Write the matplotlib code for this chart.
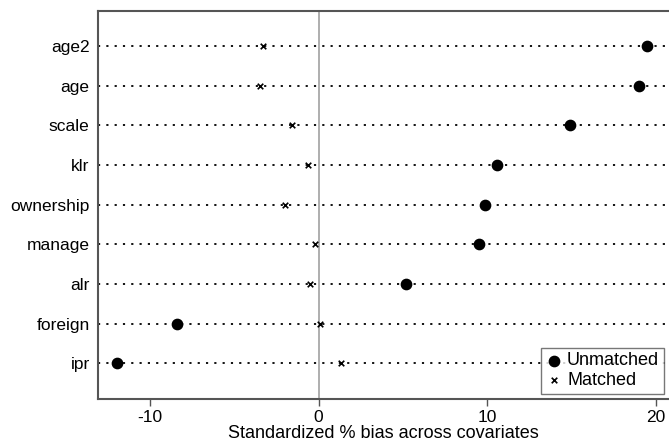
import matplotlib
matplotlib.use('Agg')
import matplotlib.pyplot as plt

plt.rcParams['font.family'] = ['Liberation Sans', 'DejaVu Sans']
plt.rcParams['axes.unicode_minus'] = False

covariates = ['age2', 'age', 'scale', 'klr', 'ownership', 'manage', 'alr', 'foreign', 'ipr']
unmatched = [19.5, 19.0, 14.9, 10.6, 9.9, 9.5, 5.2, -8.4, -12.0]
matched = [-3.3, -3.5, -1.6, -0.65, -2.0, -0.2, -0.5, 0.1, 1.3]
xticks = [-10, 0, 10, 20]

xmin, xmax = -13.1, 20.8

fig = plt.figure(figsize=(6.69, 4.43), dpi=100)
ax = fig.add_axes([0.1465, 0.099, 0.8535, 0.876])

ypos = list(range(len(covariates), 0, -1))
ax.hlines(ypos, xmin, xmax, colors='black', linestyles=[(0, (1.2, 3.4))],
          linewidth=1.3, zorder=1)
ax.axvline(0, color='#a8a8a8', linewidth=1.3, zorder=2)

ax.scatter(unmatched, ypos, s=55, color='black', marker='o', zorder=3, label='Unmatched')
ax.scatter(matched, ypos, s=16, color='black', marker='x', linewidths=1.2, zorder=3, label='Matched')

ax.set_xlim(xmin, xmax)
ax.set_ylim(0.1, len(covariates) + 0.88)
ax.set_yticks(ypos)
ax.set_yticklabels(covariates, fontsize=12.5)
ax.set_xticks(xticks)
ax.tick_params(axis='y', length=0, pad=6)
ax.tick_params(axis='x', length=5, width=1, labelsize=12.5, pad=3, color='#555555')
ax.set_xlabel('Standardized % bias across covariates', fontsize=13, labelpad=0)

for side in ['left', 'bottom', 'top']:
    ax.spines[side].set_color('#555555')
    ax.spines[side].set_linewidth(1.5)
ax.spines['right'].set_visible(False)

leg = ax.legend(loc='lower right', bbox_to_anchor=(0.997, 0.005), fontsize=13,
                frameon=True, fancybox=False, edgecolor='#555555',
                handletextpad=0.2, borderpad=0.25, labelspacing=0.15, handlelength=1.0,
                borderaxespad=0.2)
leg.get_frame().set_linewidth(1.0)

fig.savefig('out.png', dpi=100)
